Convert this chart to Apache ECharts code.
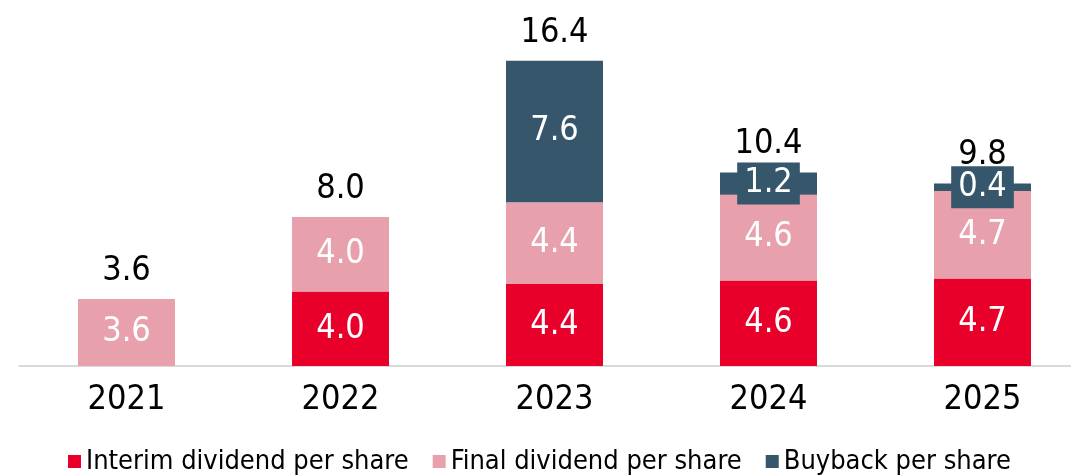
<!DOCTYPE html>
<html>
<head>
<meta charset="utf-8">
<style>
  html, body { margin: 0; padding: 0; background: #fff; }
  #chart { width: 1071px; height: 475px; }
</style>
<script src="https://cdn.jsdelivr.net/npm/echarts@6/dist/echarts.min.js"></script>
</head>
<body>
<div id="chart"></div>
<script>
// data
const years = ['2021', '2022', '2023', '2024', '2025'];
const interim = [null, 4.0, 4.4, 4.6, 4.7];
const finalDiv = [3.6, 4.0, 4.4, 4.6, 4.7];
const buyback = [null, null, 7.6, 1.2, 0.4];
const totals = [3.6, 8.0, 16.4, 10.4, 9.8];

const FONT = '"DejaVu Sans Condensed", "Noto Sans", sans-serif';

const chart = echarts.init(document.getElementById('chart'));

// white label inside the segment
function segLabel(extra) {
  return Object.assign({
    show: true,
    position: 'inside',
    color: '#fff',
    fontFamily: FONT,
    fontSize: 34,
    formatter: p => p.value == null ? '' : p.value.toFixed(1)
  }, extra || {});
}

const option = {
  animation: false,
  textStyle: { fontFamily: FONT },
  grid: { left: 19.5, width: 1070, top: 31, bottom: 109, outerBoundsMode: 'none' },
  legend: {
    data: ['Interim dividend per share', 'Final dividend per share', 'Buyback per share'],
    left: 63,
    top: 443,
    icon: 'rect',
    itemWidth: 13,
    itemHeight: 13,
    itemGap: 24,
    itemStyle: { borderWidth: 0 },
    textStyle: { fontFamily: FONT, fontSize: 27, color: '#000' }
  },
  xAxis: {
    type: 'category',
    data: years,
    axisLine: { lineStyle: { color: '#d9d9d9', width: 2 } },
    axisTick: { show: false },
    axisLabel: { color: '#000', fontFamily: FONT, fontSize: 34, margin: 17 }
  },
  yAxis: {
    type: 'value',
    min: 0,
    max: 18,
    show: false,
    splitLine: { show: false }
  },
  series: [
    {
      name: 'Interim dividend per share',
      type: 'bar',
      stack: 'a',
      barWidth: 97,
      itemStyle: { color: '#e8002b' },
      label: segLabel(),
      data: interim
    },
    {
      name: 'Final dividend per share',
      type: 'bar',
      stack: 'a',
      itemStyle: { color: '#e8a0ad' },
      label: segLabel(),
      data: finalDiv
    },
    {
      name: 'Buyback per share',
      type: 'bar',
      stack: 'a',
      itemStyle: { color: '#36566b' },
      label: segLabel({ backgroundColor: '#36566b', padding: [4, 7] }),
      data: buyback
    },
    {
      name: 'Total',
      type: 'bar',
      barGap: '-100%',
      barWidth: 97,
      z: 1,
      itemStyle: { color: 'rgba(0,0,0,0)' },
      label: {
        show: true,
        position: 'top',
        distance: 11,
        color: '#000',
        fontFamily: FONT,
        fontSize: 34,
        formatter: p => p.value.toFixed(1)
      },
      data: totals
    }
  ]
};

chart.setOption(option);
</script>
</body>
</html>
